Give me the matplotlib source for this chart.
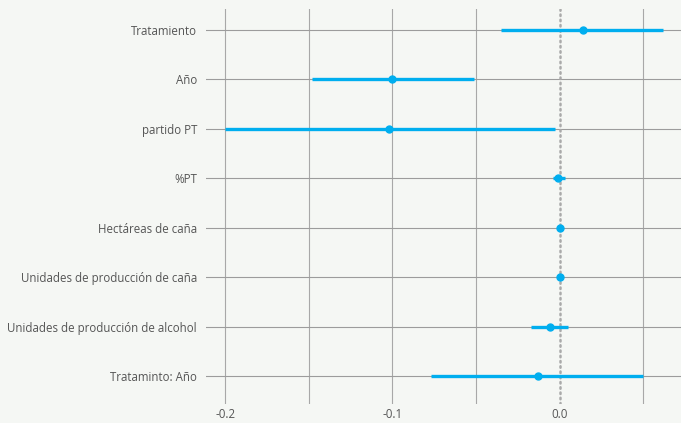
import matplotlib.pyplot as plt
import numpy as np

# coefficient estimates with 95% intervals
terms = ["Tratamiento", "Año", "partido PT", "%PT", "Hectáreas de caña",
         "Unidades de producción de caña", "Unidades de producción de alcohol",
         "Trataminto: Año"]
estimate = [0.014, -0.100, -0.102, -0.001, 0.000, 0.000, -0.006, -0.013]
conf_low = [-0.035, -0.148, -0.200, -0.004, -0.0005, -0.0005, -0.017, -0.077]
conf_high = [0.062, -0.051, -0.003, 0.003, 0.0005, 0.0005, 0.005, 0.050]

major_ticks = [-0.2, -0.1, 0.0]
minor_ticks = [-0.15, -0.05, 0.05]

bg = "#f5f7f4"
blue = "#00aeef"
grid_col = "#a8a8a8"

plt.rcParams["font.family"] = ["Open Sans", "DejaVu Sans"]

fig = plt.figure(figsize=(6.81, 4.23), dpi=100, facecolor=bg)
ax = fig.add_axes([0.3025, 0.045, 0.6975, 0.934], facecolor=bg)

y = np.arange(len(terms))

for t in major_ticks + minor_ticks:
    if t != 0:
        ax.axvline(t, color=grid_col, lw=0.8, zorder=0)
for yy in y:
    ax.axhline(yy, color="#9c9c9c", lw=0.8, zorder=0)
ax.axvline(0, color="#aaaaaa", lw=1.8, ls=(0, (0.6, 1.5)),
           dash_capstyle="round", zorder=1)

ax.hlines(y, conf_low, conf_high, color=blue, lw=2.4, zorder=3)
ax.plot(estimate, y, "o", color=blue, ms=5, zorder=4)

ax.set_xlim(-0.2114, 0.0725)
ax.set_ylim(len(terms) - 1 + 0.566, -0.425)
ax.set_yticks(y)
ax.set_yticklabels(terms)
ax.set_xticks(major_ticks)
ax.set_xticklabels(["-0.2", "-0.1", "0.0"])
ax.set_xticks(minor_ticks, minor=True)
ax.tick_params(axis="both", which="both", length=0, labelsize=8.3, labelcolor="#555555")
ax.tick_params(axis="y", pad=6.5)
ax.tick_params(axis="x", pad=3)
for s in ax.spines.values():
    s.set_visible(False)

fig.savefig("out.png", dpi=100, facecolor=bg)
